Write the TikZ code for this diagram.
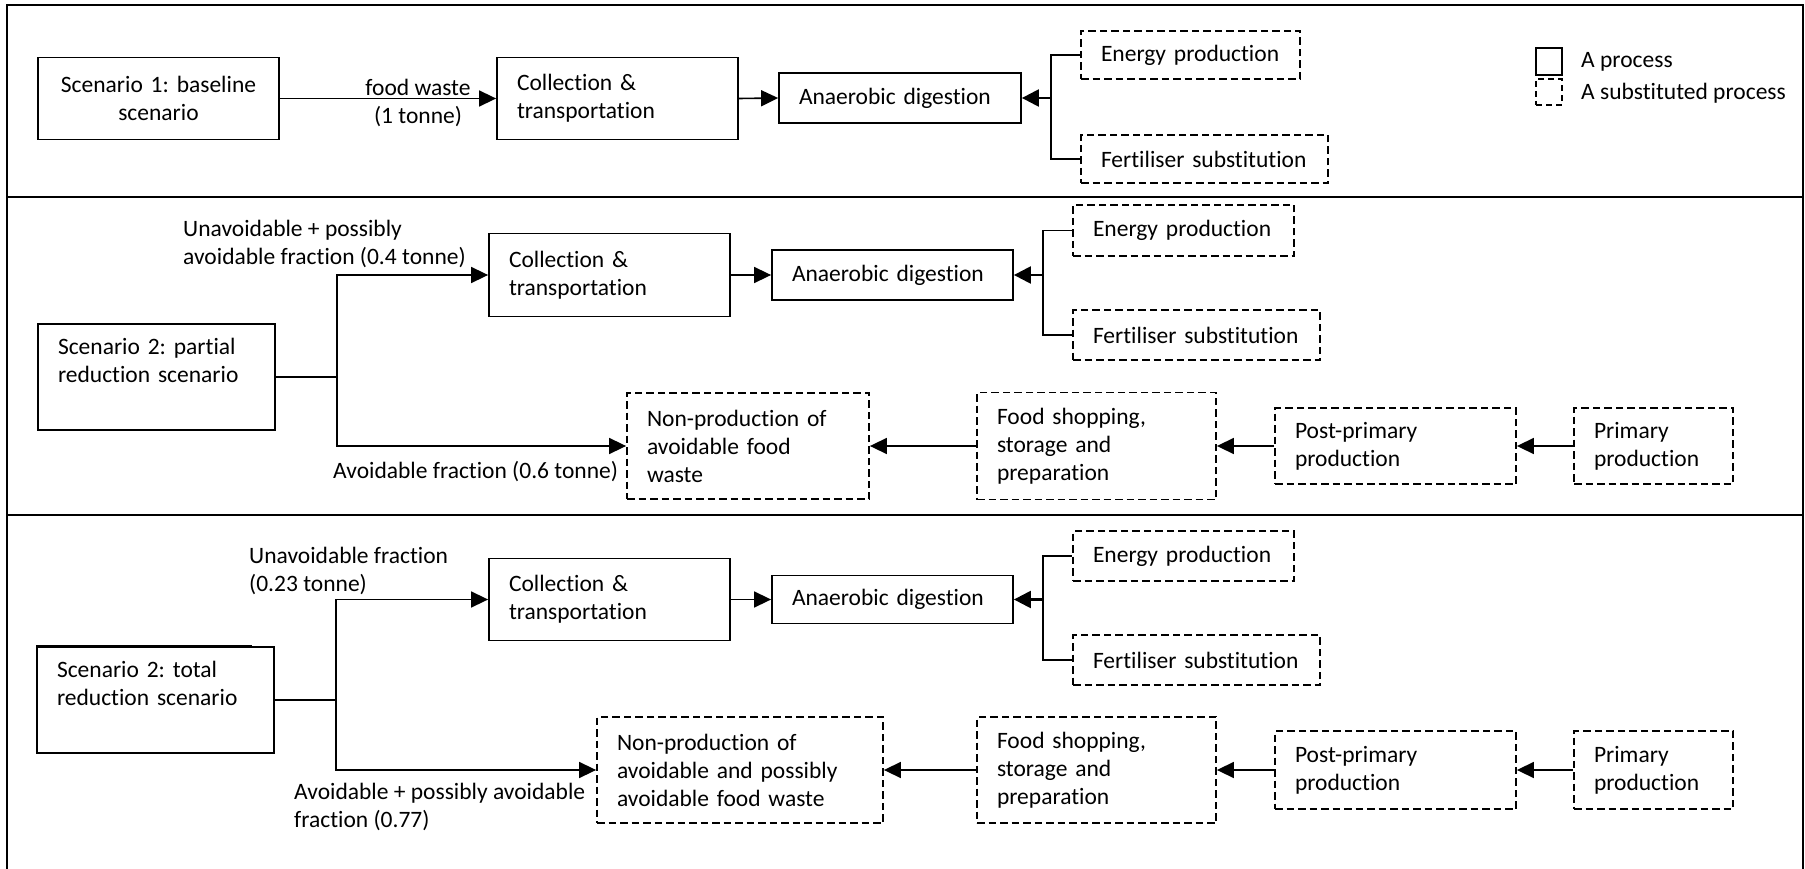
\documentclass[tikz,border=0pt]{standalone}
\usepackage{fontspec}
\setmainfont[Ligatures={NoCommon}]{Carlito}
\frenchspacing
\usetikzlibrary{arrows.meta}
\begin{document}
\begin{tikzpicture}[x=1pt,y=-1pt,
  every node/.style={font=\fontsize{23.5}{28}\selectfont},
  box/.style={draw, line width=1.8pt, inner xsep=20pt, inner ysep=0pt, align=left},
  sbox/.style={box, dash pattern=on 7.5pt off 4pt},
  lbl/.style={inner sep=0pt, align=left, anchor=west},
  arr/.style={line width=1.6pt, -{Triangle[length=17pt,width=16pt]}},
  barr/.style={line width=2.4pt, -{Triangle[length=17pt,width=17pt]}},
  ln/.style={line width=1.6pt},
  stem/.style={line width=2.6pt},
  frame/.style={line width=2pt}]
\useasboundingbox (0,0) rectangle (1805,869);

% frame and panel separators
\draw[frame] (7,869) -- (7,5) -- (1803,5) -- (1803,869);
\draw[frame] (7,197) -- (1803,197);
\draw[frame] (7,515) -- (1803,515);

% ---------------- Panel 1 ----------------
\node[box, align=center, minimum width=241pt, minimum height=82pt, text width=201pt] (S1) at (158.5,98.5) {\mbox{Scenario 1: baseline}\\scenario};
\node[box, minimum width=241pt, minimum height=82pt, text width=201pt] (C1) at (617.5,98.5) {Collection \&\\transportation};
\node[box, minimum width=242pt, minimum height=50pt, text width=202pt] (A1) at (900,98) {\mbox{Anaerobic digestion}};
\node[sbox, minimum width=219pt, minimum height=48pt, text width=179pt] (E1) at (1190.5,55) {\mbox{Energy production}};
\node[sbox, minimum width=247pt, minimum height=48pt, text width=207pt] (F1) at (1204.5,159) {\mbox{Fertiliser substitution}};
\coordinate (b1) at (1051,98);

\draw[arr] (S1.east) -- (C1.west);
\node[inner sep=0pt, align=center] (fw) at (418,103) {food waste\\(1 tonne)};
\draw[arr] (C1.east) -- (A1.east -| A1.west);
\draw[ln] (E1.west) -| (b1) |- (F1.west);
\draw[barr] (b1) -- (A1.east);

% legend
\node[draw, line width=1.8pt, minimum width=26pt, minimum height=27pt, inner sep=0pt] (L1) at (1549,61.5) {};
\node[draw, line width=1.8pt, dash pattern=on 6pt off 4pt, minimum width=26pt, minimum height=26pt, inner sep=0pt] (L2) at (1549,92) {};
\node[lbl] (L1t) at (1581,62) {A process};
\node[lbl] (L2t) at (1581,93) {A substituted process};

% ---------------- Panel 2 ----------------
\node[box, minimum width=237pt, minimum height=106pt, text width=197pt, text depth=62pt] (S2) at (156.5,377) {Scenario 2: partial\\reduction scenario};
\node[box, minimum width=241pt, minimum height=83pt, text width=201pt] (C2) at (609.5,275) {Collection \&\\transportation};
\node[box, minimum width=241pt, minimum height=50pt, text width=201pt] (A2) at (892.5,275) {\mbox{Anaerobic digestion}};
\node[sbox, minimum width=221pt, minimum height=51pt, text width=181pt] (E2) at (1183.5,230.5) {\mbox{Energy production}};
\node[sbox, minimum width=247pt, minimum height=50pt, text width=207pt] (F2) at (1196.5,335) {\mbox{Fertiliser substitution}};
\node[sbox, minimum width=242pt, minimum height=106pt, text width=202pt] (N2) at (748,446) {Non-production of\\avoidable food\\waste};
\node[sbox, minimum width=239pt, minimum height=107pt, text width=199pt] (FS2) at (1096.5,446) {Food shopping,\\storage and\\preparation};
\node[sbox, minimum width=241pt, minimum height=76pt, text width=201pt] (PP2) at (1395.5,446) {Post-primary\\production};
\node[sbox, minimum width=159pt, minimum height=76pt, text width=119pt] (P2) at (1653.5,446) {Primary\\production};
\coordinate (j2) at (337,377);
\coordinate (b2) at (1043,275);

\draw[stem] (S2.east) -- (j2);
\draw[arr] (j2) |- (C2.west);
\draw[arr] (j2) |- (N2.west);
\node[lbl] (u2) at (183,244) {Unavoidable + possibly\\avoidable fraction (0.4 tonne)};
\node[lbl] (v2) at (333,472) {Avoidable fraction (0.6 tonne)};
\draw[arr] (C2.east) -- (A2.west);
\draw[ln] (E2.west) -| (b2) |- (F2.west);
\draw[barr] (b2) -- (A2.east);
\draw[arr] (FS2.west) -- (N2.east);
\draw[arr] (PP2.west) -- (FS2.east);
\draw[arr] (P2.west) -- (PP2.east);

% ---------------- Panel 3 ----------------
\node[box, minimum width=237pt, minimum height=106pt, text width=197pt, text depth=62pt] (S3) at (155.5,700) {Scenario 2: total\\reduction scenario};
\draw[line width=3pt] (S3.north west) -- ++(216,0);
\node[box, minimum width=241pt, minimum height=82pt, text width=201pt] (C3) at (609.5,599.5) {Collection \&\\transportation};
\node[box, minimum width=241pt, minimum height=48pt, text width=201pt] (A3) at (892.5,599.5) {\mbox{Anaerobic digestion}};
\node[sbox, minimum width=221pt, minimum height=50pt, text width=181pt] (E3) at (1183.5,556) {\mbox{Energy production}};
\node[sbox, minimum width=247pt, minimum height=50pt, text width=207pt] (F3) at (1196.5,660) {\mbox{Fertiliser substitution}};
\node[sbox, minimum width=286pt, minimum height=106pt, text width=246pt] (N3) at (740,770) {Non-production of\\avoidable and possibly\\avoidable food waste};
\node[sbox, minimum width=239pt, minimum height=106pt, text width=199pt] (FS3) at (1096.5,770) {Food shopping,\\storage and\\preparation};
\node[sbox, minimum width=241pt, minimum height=78pt, text width=201pt] (PP3) at (1395.5,770) {Post-primary\\production};
\node[sbox, minimum width=159pt, minimum height=78pt, text width=119pt] (P3) at (1653.5,770) {Primary\\production};
\coordinate (j3) at (336,700);
\coordinate (b3) at (1043,599.5);

\draw[stem] (S3.east) -- (j3);
\draw[arr] (j3) |- (C3.west);
\draw[arr] (j3) |- (N3.west);
\node[lbl] (u3) at (249,571) {Unavoidable fraction\\(0.23 tonne)};
\node[lbl] (v3) at (294,807) {Avoidable + possibly avoidable\\fraction (0.77)};
\draw[arr] (C3.east) -- (A3.west);
\draw[ln] (E3.west) -| (b3) |- (F3.west);
\draw[barr] (b3) -- (A3.east);
\draw[arr] (FS3.west) -- (N3.east);
\draw[arr] (PP3.west) -- (FS3.east);
\draw[arr] (P3.west) -- (PP3.east);
\end{tikzpicture}
\end{document}
